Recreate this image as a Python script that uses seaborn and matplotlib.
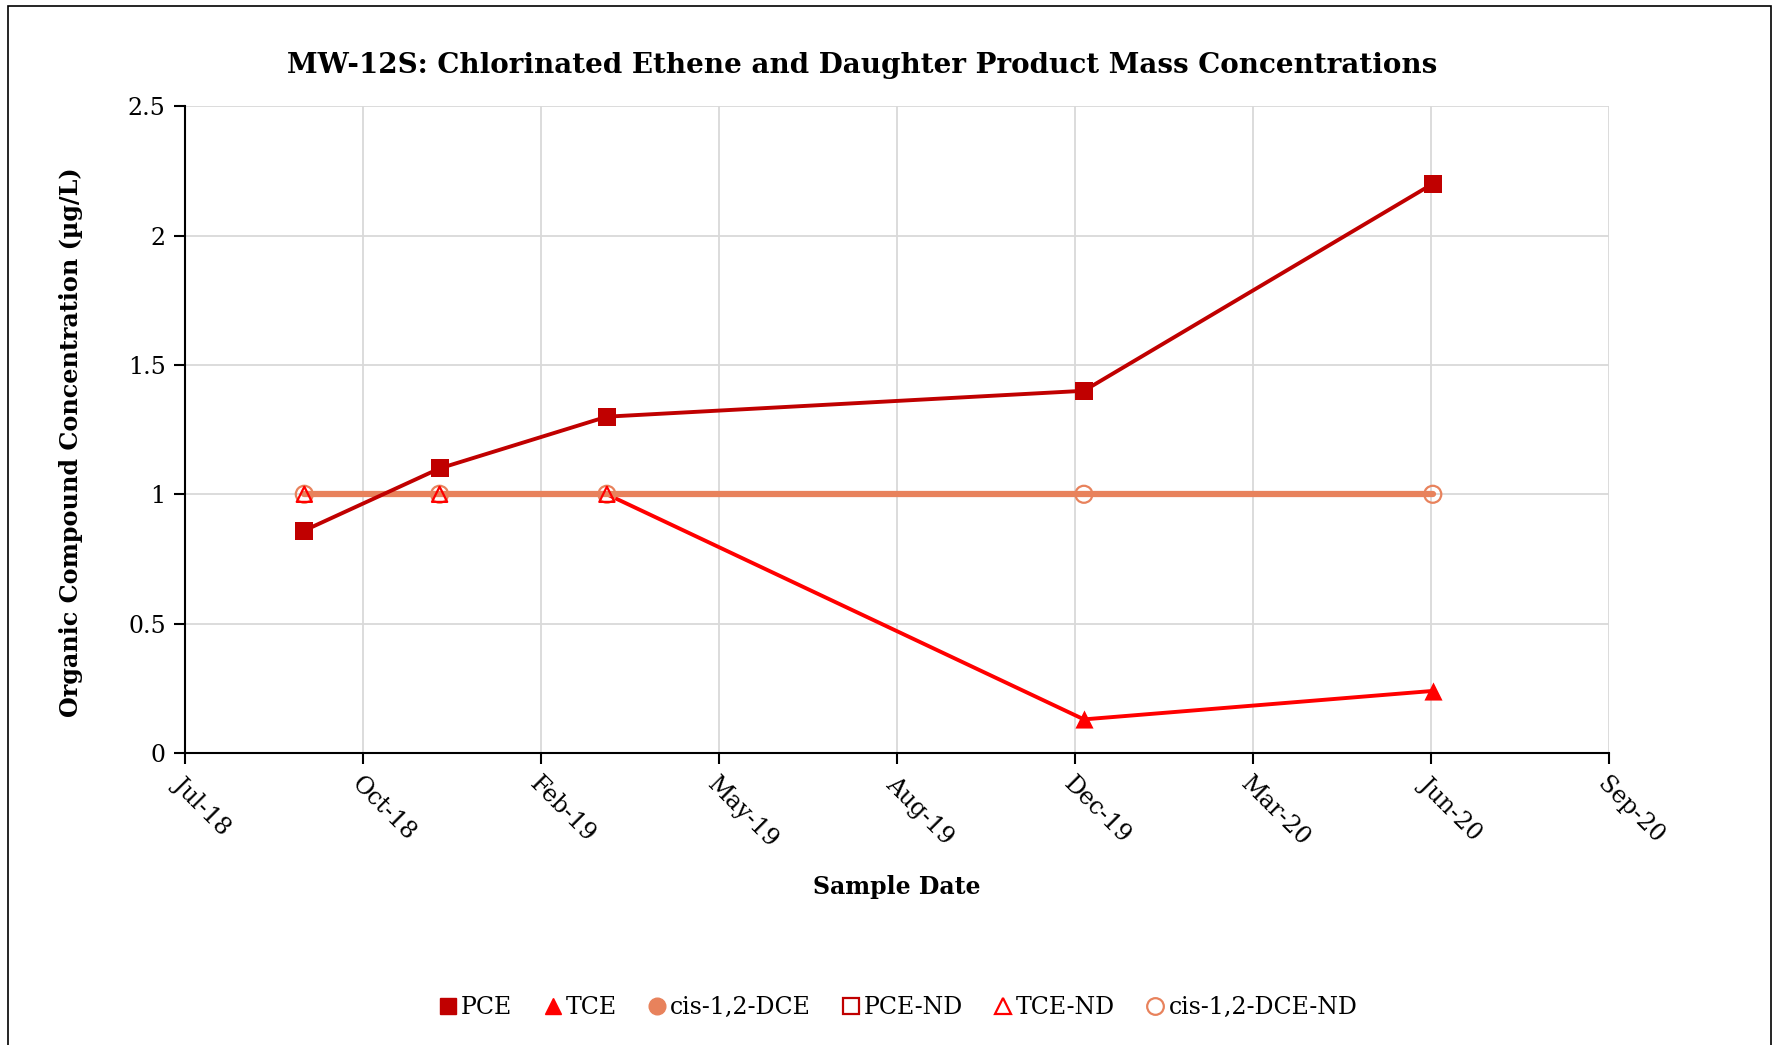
"""MW-12S chlorinated ethene concentrations over time."""

import pandas as pd
import matplotlib.pyplot as plt
from matplotlib.lines import Line2D
from matplotlib.patches import Rectangle
import seaborn as sns

# Data
sample_dates = ['2018-09-26', '2018-12-11', '2019-03-15', '2019-12-08', '2020-06-21']
pce = [0.86, 1.1, 1.3, 1.4, 2.2]
tce = [1.0, 1.0, 1.0, 0.13, 0.24]
dce = [1.0, 1.0, 1.0, 1.0, 1.0]
tce_nd = [True, True, True, False, False]
dce_nd = [True, True, True, True, True]

tick_labels = ['Jul-18', 'Oct-18', 'Feb-19', 'May-19', 'Aug-19',
               'Dec-19', 'Mar-20', 'Jun-20', 'Sep-20']

colors = {'PCE': '#C00000', 'TCE': '#FF0000', 'cis-1,2-DCE': '#E8825C'}

df = pd.DataFrame({
    'date': pd.to_datetime(sample_dates),
    'PCE': pce,
    'TCE': tce,
    'cis-1,2-DCE': dce,
})
df['TCE_nd'] = tce_nd
df['DCE_nd'] = dce_nd

sns.set_style("whitegrid")
plt.rcParams['font.family'] = ['DejaVu Serif']
plt.rcParams['text.color'] = 'black'
plt.rcParams['axes.labelcolor'] = 'black'
plt.rcParams['xtick.color'] = 'black'
plt.rcParams['ytick.color'] = 'black'

fig = plt.figure(figsize=(17.83, 10.45), dpi=100)
ax = fig.add_axes([0.1038, 0.2794, 0.7986, 0.619])

# lines (Excel order: later series drawn on top)
sns.lineplot(data=df, x='date', y='TCE', color=colors['TCE'],
             linewidth=2.8, ax=ax, zorder=2)
sns.lineplot(data=df, x='date', y='cis-1,2-DCE', color=colors['cis-1,2-DCE'],
             linewidth=4.5, ax=ax, zorder=3)
sns.lineplot(data=df, x='date', y='PCE', color=colors['PCE'],
             linewidth=2.8, ax=ax, zorder=4)

# detected markers
ax.scatter(df['date'], df['PCE'], marker='s', s=150, color=colors['PCE'], zorder=5, linewidths=0)
det = df[~df['TCE_nd']]
ax.scatter(det['date'], det['TCE'], marker='^', s=170, color=colors['TCE'], zorder=5, linewidths=0)

# non-detect markers
nd = df[df['DCE_nd']]
ax.scatter(nd['date'], nd['cis-1,2-DCE'], marker='o', s=150, facecolors='none',
           edgecolors=colors['cis-1,2-DCE'], linewidths=1.6, zorder=6)
nd = df[df['TCE_nd']]
ax.scatter(nd['date'], nd['TCE'], marker='^', s=120, facecolors='none',
           edgecolors=colors['TCE'], linewidths=1.6, zorder=7)

# axes
start = pd.Timestamp('2018-07-21')
ticks = [start + pd.Timedelta(days=100 * i) for i in range(len(tick_labels))]
ax.set_xlim(ticks[0], ticks[-1])
ax.set_xticks(ticks)
ax.set_xticklabels(tick_labels, rotation=-45, ha='left', rotation_mode='anchor', fontsize=17)
ax.set_ylim(0, 2.5)
ax.set_yticks([0, 0.5, 1, 1.5, 2, 2.5])
ax.set_yticklabels(['0', '0.5', '1', '1.5', '2', '2.5'], fontsize=17)

ax.grid(True, color='#D9D9D9', linewidth=1.3)
ax.set_axisbelow(True)
for side in ['top', 'right']:
    ax.spines[side].set_visible(False)
for side in ['left', 'bottom']:
    ax.spines[side].set_color('black')
    ax.spines[side].set_linewidth(1.5)
ax.tick_params(axis='both', direction='out', length=8, width=1.5, color='black',
               left=True, bottom=True, pad=6)

ax.set_xlabel('Sample Date', fontsize=17, fontweight='bold')
ax.xaxis.set_label_coords(0.5, -0.188)
ax.set_ylabel('Organic Compound Concentration (µg/L)', fontsize=17.2, fontweight='bold')
ax.yaxis.set_label_coords(-0.072, 0.48)

fig.text(0.4835, 0.937, 'MW-12S: Chlorinated Ethene and Daughter Product Mass Concentrations',
         ha='center', va='center', fontsize=20, fontweight='bold')

# legend
handles = [
    Line2D([], [], ls='none', marker='s', ms=11, color=colors['PCE']),
    Line2D([], [], ls='none', marker='^', ms=12, color=colors['TCE']),
    Line2D([], [], ls='none', marker='o', ms=12, color=colors['cis-1,2-DCE']),
    Line2D([], [], ls='none', marker='s', ms=11, mfc='none', mec=colors['PCE'], mew=1.6),
    Line2D([], [], ls='none', marker='^', ms=12, mfc='none', mec=colors['TCE'], mew=1.6),
    Line2D([], [], ls='none', marker='o', ms=12, mfc='none', mec=colors['cis-1,2-DCE'], mew=1.6),
]
labels = ['PCE', 'TCE', 'cis-1,2-DCE', 'PCE-ND', 'TCE-ND', 'cis-1,2-DCE-ND']
fig.legend(handles, labels, loc='center', bbox_to_anchor=(0.503, 0.036), ncol=6,
           frameon=False, fontsize=17, handletextpad=0.05, columnspacing=1.2,
           handlelength=1.0)

# chart border
fig.patches.append(Rectangle((0.0045, -0.05), 0.9888, 1.0443, transform=fig.transFigure,
                             fill=False, edgecolor='black', linewidth=1.2))

plt.savefig('out.png', dpi=100)
plt.close()
